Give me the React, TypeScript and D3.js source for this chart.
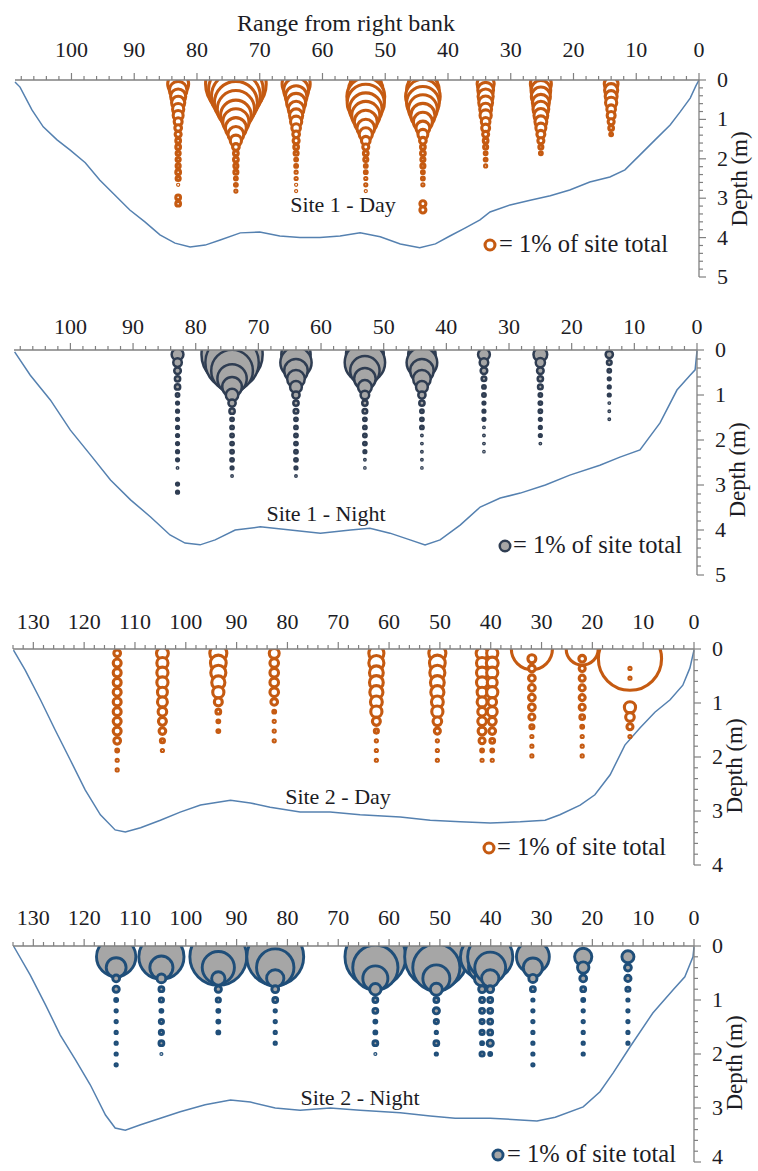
import React from "react";
import * as d3 from "d3";

// ---------------- DATA ----------------
const RANGE_TICKS_SITE1 = [0, 10, 20, 30, 40, 50, 60, 70, 80, 90, 100];
const RANGE_TICKS_SITE2 = [0, 10, 20, 30, 40, 50, 60, 70, 80, 90, 100, 110, 120, 130];
const DEPTH_TICKS_SITE1 = [0, 1, 2, 3, 4, 5];
const DEPTH_TICKS_SITE2 = [0, 1, 2, 3, 4];

// Site 1 - Day : station ranges (m), first bin depth (m), bin step (m), % of site total per bin
const S1D_RANGE = [83.0, 73.8, 64.2, 53.1, 44.0, 34.0, 25.2, 14.0];
const S1D_START = [0.1, 0.1, 0.1, 0.1, 0.1, 0.1, 0.1, 0.1];
const S1D_STEP = 0.16;
const S1D_PCT = [
  [1.85, 1.6, 1.4, 1.25, 1.1, 1.0, 0.85, 0.75, 0.7, 0.6, 0.6, 0.55, 0.55, 0.55, 0.6, 0.55, 0.3, 0, 0.6, 0.6],
  [4.9, 4.45, 4.0, 3.55, 3.1, 2.6, 2.25, 1.85, 1.45, 1.1, 0.75, 0.6, 0.6, 0.55, 0.55, 0.45, 0.45, 0.4],
  [2.4, 2.15, 1.9, 1.7, 1.45, 1.25, 1.1, 0.9, 0.75, 0.7, 0.6, 0.55, 0.45, 0.45, 0.4, 0.4, 0.3, 0.3],
  [2.6, 2.9, 3.15, 3.1, 2.75, 2.4, 2.0, 1.6, 1.25, 0.9, 0.7, 0.6, 0.55, 0.45, 0.45, 0.4, 0.4, 0.3],
  [2.45, 2.75, 2.9, 2.75, 2.45, 2.1, 1.7, 1.3, 1.0, 0.75, 0.6, 0.6, 0.55, 0.55, 0.45, 0.45, 0.4, 0, 0, 0.7, 0.7],
  [1.55, 1.45, 1.4, 1.3, 1.15, 1.1, 0.9, 0.85, 0.7, 0.6, 0.55, 0.45, 0.45, 0.4],
  [1.85, 1.75, 1.7, 1.55, 1.45, 1.3, 1.15, 1.0, 0.85, 0.7, 0.55, 0.45],
  [1.3, 1.25, 1.15, 1.1, 0.9, 0.85, 0.7, 0.6, 0.45],
];

// Site 1 - Night
const S1N_RANGE = [82.9, 74.2, 64.0, 53.0, 43.9, 34.0, 25.0, 14.0];
const S1N_START = [0.1, 0.1, 0.1, 0.1, 0.1, 0.1, 0.1, 0.1];
const S1N_STEP = 0.18;
const S1N_PCT = [
  [1.1, 0.85, 0.7, 0.6, 0.6, 0.45, 0.4, 0.4, 0.4, 0.4, 0.4, 0.4, 0.4, 0.4, 0.3, 0, 0.4, 0.4],
  [4.9, 4.3, 3.4, 2.45, 1.7, 1.15, 0.75, 0.6, 0.45, 0.45, 0.45, 0.45, 0.45, 0.45, 0.4, 0.3],
  [2.45, 2.6, 2.0, 1.55, 1.1, 0.75, 0.6, 0.55, 0.45, 0.45, 0.45, 0.45, 0.45, 0.45, 0.4, 0.3],
  [3.1, 3.3, 2.45, 1.85, 1.25, 0.85, 0.6, 0.55, 0.45, 0.45, 0.45, 0.45, 0.4, 0.3, 0.25],
  [2.3, 2.55, 2.0, 1.55, 1.1, 0.75, 0.6, 0.45, 0.45, 0.45, 0.3, 0.3, 0.3, 0.3, 0.25],
  [1.1, 0.85, 0.7, 0.55, 0.45, 0.45, 0.4, 0.4, 0.4, 0.3, 0.3, 0.3, 0.25],
  [1.25, 0.9, 0.7, 0.6, 0.55, 0.45, 0.45, 0.45, 0.4, 0.4, 0.4, 0.3],
  [0.75, 0.55, 0.45, 0.4, 0.4, 0.4, 0.3, 0.3, 0.3],
];

// Site 2 - Day
const S2D_RANGE = [113.5, 104.6, 93.6, 82.6, 62.5, 50.5, 41.7, 39.7, 31.9, 22.0, 12.6];
const S2D_START = [0.08, 0.08, 0.08, 0.08, 0.08, 0.08, 0.08, 0.08, 0.0, 0.0, 0.18];
const S2D_STEP = 0.18;
const S2D_PCT = [
  [0.75, 0.85, 0.85, 0.85, 0.85, 0.85, 0.85, 0.85, 0.85, 0.75, 0.45, 0.4, 0.4],
  [1.15, 1.1, 1.1, 1.1, 1.0, 1.0, 0.9, 0.85, 0.75, 0.55, 0.4],
  [1.55, 1.45, 1.4, 1.25, 1.1, 0.85, 0.6, 0.45, 0.45],
  [1.0, 0.9, 0.9, 0.9, 0.9, 0.75, 0.45, 0.4, 0.4, 0.4],
  [1.4, 1.4, 1.3, 1.3, 1.25, 1.15, 1.1, 0.85, 0.55, 0.4, 0.4, 0.4],
  [1.55, 1.45, 1.4, 1.3, 1.25, 1.15, 1.1, 0.9, 0.7, 0.4, 0.4, 0.4],
  [1.15, 1.1, 1.1, 1.1, 1.0, 1.0, 0.9, 0.9, 0.85, 0.7, 0.45, 0.4],
  [1.1, 1.15, 1.1, 1.0, 1.1, 0.9, 1.0, 0.85, 0.75, 0.6, 0.45, 0.4],
  [3.4, 0.85, 0.75, 0.75, 0.75, 0.75, 0.75, 0.7, 0.55, 0.4, 0.4, 0.4],
  [2.7, 0.75, 0.7, 0.7, 0.7, 0.7, 0.7, 0.6, 0.45, 0.4, 0.4, 0.4],
  [5.1, 0.4, 0.4, 0, 0, 1.1, 0.9, 0.7, 0.4],
];

// Site 2 - Night
const S2N_RANGE = [113.7, 104.8, 93.6, 82.4, 62.7, 50.7, 41.7, 40.1, 31.7, 21.8, 13.0];
const S2N_START = [0.2, 0.2, 0.2, 0.2, 0.2, 0.2, 0.2, 0.2, 0.2, 0.2, 0.2];
const S2N_STEP = 0.2;
const S2N_PCT = [
  [3.25, 1.75, 0.75, 0.7, 0.45, 0.4, 0.4, 0.4, 0.4, 0.4, 0.4],
  [3.7, 2.0, 0.9, 0.6, 0.55, 0.45, 0.55, 0.55, 0.6, 0.3],
  [4.6, 2.7, 1.25, 0.7, 0.55, 0.45, 0.45, 0.45],
  [4.6, 3.1, 1.55, 0.75, 0.6, 0.4, 0.4, 0.4, 0.4],
  [4.9, 3.7, 2.15, 1.1, 0.6, 0.6, 0.45, 0.45, 0.6, 0.3],
  [5.1, 3.85, 2.3, 1.15, 0.6, 0.7, 0.55, 0.4, 0.6, 0.4],
  [3.55, 2.3, 1.4, 0.75, 0.6, 0.6, 0.55, 0.55, 0.45, 0.55],
  [3.7, 2.6, 1.55, 0.75, 0.6, 0.6, 0.6, 0.6, 0.7, 0.45],
  [2.75, 1.7, 0.85, 0.6, 0.4, 0.4, 0.4, 0.4, 0.4, 0.4, 0.4],
  [1.55, 1.1, 0.75, 0.6, 0.45, 0.4, 0.4, 0.4, 0.4, 0.4],
  [1.15, 0.75, 0.7, 0.55, 0.4, 0.4, 0.4, 0.4, 0.4],
];

// Channel bed profiles: [range from right bank (m), depth (m)]
const S1D_BED: [number, number][] = [
  [109, 0.05], [108.2, 0.18], [106.3, 0.76], [104.5, 1.19], [102.3, 1.52], [100.2, 1.78], [97.8, 2.1],
  [95.5, 2.54], [93.1, 2.92], [90.7, 3.3], [88.3, 3.6], [85.9, 3.93], [83.5, 4.14], [81.1, 4.24],
  [78.7, 4.19], [76.3, 4.06], [73.1, 3.88], [70, 3.86], [66.8, 3.96], [63.6, 4.0], [60.4, 4.0],
  [57.2, 3.96], [54, 3.88], [50.8, 3.98], [47.6, 4.16], [44.5, 4.26], [42, 4.16], [39.7, 3.96],
  [37.3, 3.76], [34.9, 3.55], [33.3, 3.35], [30.1, 3.17], [26.9, 3.05], [23.7, 2.94], [20.6, 2.79],
  [17.4, 2.59], [14.2, 2.46], [11.8, 2.28], [9.4, 1.9], [7, 1.52], [4.6, 1.14], [3, 0.81],
  [1.4, 0.46], [0.5, 0.15], [0, 0],
];
const S1N_BED: [number, number][] = [
  [108.9, 0.04], [106.4, 0.56], [103.2, 1.11], [100, 1.78], [96.8, 2.33], [93.6, 2.89], [90.4, 3.33],
  [87.2, 3.71], [84.1, 4.11], [81.7, 4.29], [79.3, 4.33], [76.9, 4.22], [73.7, 4.0], [69.7, 3.93],
  [64.9, 4.0], [60.1, 4.07], [55.3, 4.0], [52.2, 3.96], [49, 4.07], [45.8, 4.22], [43.4, 4.33],
  [41, 4.22], [37.8, 3.89], [34.6, 3.49], [31.4, 3.29], [28.2, 3.18], [24.2, 3.0], [20.3, 2.78],
  [15.5, 2.56], [12.3, 2.38], [9.1, 2.22], [5.9, 1.62], [3.2, 0.89], [1.1, 0.56], [0.3, 0.44], [0, 0.02],
];
const S2D_BED: [number, number][] = [
  [133.9, 0.02], [131.6, 0.39], [128.6, 0.94], [125.7, 1.5], [122.7, 2.06], [119.8, 2.61], [116.8, 3.07],
  [113.9, 3.35], [111.9, 3.39], [108.9, 3.31], [105, 3.17], [101.1, 3.02], [97.1, 2.89], [91.2, 2.8],
  [87.3, 2.85], [83.4, 2.93], [77.5, 3.02], [71.6, 3.02], [65.7, 3.07], [57.8, 3.11], [51.9, 3.17],
  [46, 3.2], [40.1, 3.22], [34.2, 3.2], [29.3, 3.17], [26.4, 3.07], [22.4, 2.89], [19.5, 2.7],
  [16.5, 2.33], [13.6, 1.78], [10.6, 1.46], [7.7, 1.17], [4.7, 0.94], [2.2, 0.67], [0.8, 0.35], [0, 0.02],
];
const S2N_BED: [number, number][] = [
  [133.9, 0], [130.6, 0.54], [127.6, 1.09], [124.7, 1.65], [121.7, 2.11], [118.8, 2.57], [115.8, 3.13],
  [113.9, 3.37], [111.9, 3.41], [108.9, 3.31], [105, 3.19], [101.1, 3.07], [96.2, 2.94], [91.2, 2.85],
  [87.3, 2.89], [82.4, 3.0], [77.5, 3.04], [71.6, 3.0], [65.7, 3.04], [57.8, 3.09], [51.9, 3.15],
  [47, 3.19], [40.1, 3.19], [34.2, 3.22], [30.9, 3.24], [27.3, 3.17], [21.8, 2.98], [18.5, 2.7],
  [15.9, 2.35], [12.6, 1.87], [8.1, 1.24], [4.1, 0.81], [1.8, 0.57], [0.2, 0.2], [0, 0.02],
];

// ---------------- STYLE / LAYOUT ----------------
const FONT = "'Liberation Serif', 'Times New Roman', Times, serif";
const TEXT = "#1c1c24";
const AXIS = "#808080";
const BED = "#5581b0";
const ORANGE = "#c55a11";
const GRAY = "#a6a6a6";
const NAVY1 = "#2f3d52";
const NAVY2 = "#1f4e79";
const PCT_TO_PX = 6.5; // outer radius of a 1% bubble

type Station = { range: number; start: number; pct: number[] };
function stations(r: number[], s: number[], p: number[][]): Station[] {
  return r.map((range, i) => ({ range, start: s[i], pct: p[i] }));
}

type PanelCfg = {
  xMax: number; xLeft: number; xRight: number; axisY: number; dMax: number; yBottom: number;
  rangeTicks: number[]; depthTicks: number[]; labelBase: number; depthLabelY: number;
  site: string; siteX: number; siteY: number;
  legCx: number; legCy: number; legTx: number; legTy: number;
  step: number; st: Station[]; bed: [number, number][];
  stroke: string; fill: string; sw: number;
};

function Panel({ c, id }: { c: PanelCfg; id: string }) {
  const x = d3.scaleLinear().domain([c.xMax, 0]).range([c.xLeft, c.xRight]);
  const y = d3.scaleLinear().domain([0, c.dMax]).range([c.axisY, c.yBottom]);
  const rs = d3.scaleLinear().domain([0, 1]).range([0, PCT_TO_PX]);
  const minorX = d3.range(0, c.xMax + 0.001, 2);
  const minorY = d3.range(0, c.dMax + 0.001, 0.2);
  const line = d3.line<[number, number]>().x((d) => x(d[0])).y((d) => y(d[1]));
  const bubbles: { cx: number; cy: number; r: number; k: string }[] = [];
  c.st.forEach((s, si) => {
    s.pct.forEach((p, i) => {
      if (p <= 0) return;
      const R = rs(p);
      bubbles.push({
        cx: x(s.range),
        cy: y(s.start + i * c.step),
        r: Math.max(R - c.sw / 2, 0.6),
        k: `${si}-${i}`,
      });
    });
  });
  const legR = rs(1) - c.sw / 2;
  return (
    <g>
      <defs>
        <clipPath id={id}>
          <rect x={0} y={c.axisY} width={c.xRight} height={c.yBottom - c.axisY + 40} />
        </clipPath>
      </defs>
      <path d={line(c.bed) || ""} fill="none" stroke={BED} strokeWidth={1.5} />
      <g clipPath={`url(#${id})`}>
        {bubbles.map((b) => (
          <circle key={b.k} cx={b.cx} cy={b.cy} r={b.r} fill={c.fill} stroke={c.stroke} strokeWidth={c.sw} />
        ))}
      </g>
      <line x1={c.xLeft} x2={c.xRight} y1={c.axisY} y2={c.axisY} stroke={AXIS} strokeWidth={1.3} />
      {minorX.map((v) => (
        <line key={`tx${v}`} x1={x(v)} x2={x(v)} y1={c.axisY} y2={c.axisY - (v % 10 === 0 ? 7 : 4)} stroke={AXIS} strokeWidth={1.2} />
      ))}
      {c.rangeTicks.map((v) => (
        <text key={`lx${v}`} x={x(v)} y={c.labelBase} textAnchor="middle" fontFamily={FONT} fontSize={22} fill={TEXT}>
          {v}
        </text>
      ))}
      <line x1={c.xRight} x2={c.xRight} y1={c.axisY} y2={c.yBottom} stroke={AXIS} strokeWidth={1.3} />
      {minorY.map((v, i) => (
        <line key={`ty${i}`} x1={c.xRight} x2={c.xRight + (i % 5 === 0 ? 7 : 4)} y1={y(v)} y2={y(v)} stroke={AXIS} strokeWidth={1.2} />
      ))}
      {c.depthTicks.map((v) => (
        <text key={`ly${v}`} x={c.xRight + 18} y={Math.min(y(v) + 7, 1164)} fontFamily={FONT} fontSize={22} fill={TEXT}>
          {v}
        </text>
      ))}
      <text
        transform={`translate(${c.xRight + 48},${c.depthLabelY}) rotate(-90)`}
        textAnchor="middle"
        fontFamily={FONT}
        fontSize={23}
        fill={TEXT}
      >
        Depth (m)
      </text>
      <text x={c.siteX} y={c.siteY} textAnchor="middle" fontFamily={FONT} fontSize={22} fill={TEXT}>
        {c.site}
      </text>
      <circle cx={c.legCx} cy={c.legCy} r={legR} fill={c.fill} stroke={c.stroke} strokeWidth={c.sw} />
      <text x={c.legTx} y={c.legTy} fontFamily={FONT} fontSize={24.5} fill={TEXT}>
        = 1% of site total
      </text>
    </g>
  );
}

export default function App() {
  const panels: PanelCfg[] = [
    {
      xMax: 109, xLeft: 15, xRight: 699, axisY: 80, dMax: 5, yBottom: 277,
      rangeTicks: RANGE_TICKS_SITE1, depthTicks: DEPTH_TICKS_SITE1, labelBase: 57, depthLabelY: 179,
      site: "Site 1 - Day", siteX: 343, siteY: 212,
      legCx: 490, legCy: 245, legTx: 499, legTy: 252,
      step: S1D_STEP, st: stations(S1D_RANGE, S1D_START, S1D_PCT), bed: S1D_BED,
      stroke: ORANGE, fill: "#ffffff", sw: 3.1,
    },
    {
      xMax: 109, xLeft: 14, xRight: 697, axisY: 350, dMax: 5, yBottom: 575,
      rangeTicks: RANGE_TICKS_SITE1, depthTicks: DEPTH_TICKS_SITE1, labelBase: 334, depthLabelY: 470,
      site: "Site 1 - Night", siteX: 326, siteY: 521,
      legCx: 505, legCy: 546, legTx: 513, legTy: 553,
      step: S1N_STEP, st: stations(S1N_RANGE, S1N_START, S1N_PCT), bed: S1N_BED,
      stroke: NAVY1, fill: GRAY, sw: 2.5,
    },
    {
      xMax: 134, xLeft: 13, xRight: 694, axisY: 649, dMax: 4, yBottom: 865,
      rangeTicks: RANGE_TICKS_SITE2, depthTicks: DEPTH_TICKS_SITE2, labelBase: 629, depthLabelY: 766,
      site: "Site 2 - Day", siteX: 338, siteY: 804,
      legCx: 489, legCy: 848, legTx: 497, legTy: 855,
      step: S2D_STEP, st: stations(S2D_RANGE, S2D_START, S2D_PCT), bed: S2D_BED,
      stroke: ORANGE, fill: "#ffffff", sw: 3.1,
    },
    {
      xMax: 134, xLeft: 13, xRight: 694, axisY: 946, dMax: 4, yBottom: 1162,
      rangeTicks: RANGE_TICKS_SITE2, depthTicks: DEPTH_TICKS_SITE2, labelBase: 925, depthLabelY: 1063,
      site: "Site 2 - Night", siteX: 360, siteY: 1105,
      legCx: 498, legCy: 1155, legTx: 507, legTy: 1162,
      step: S2N_STEP, st: stations(S2N_RANGE, S2N_START, S2N_PCT), bed: S2N_BED,
      stroke: NAVY2, fill: GRAY, sw: 2.9,
    },
  ];
  return (
    <svg
      width={758}
      height={1171}
      viewBox="0 0 758 1171"
      style={{ position: "absolute", left: 0, top: 0, background: "#ffffff" }}
    >
      <rect x={0} y={0} width={758} height={1171} fill="#ffffff" />
      <text x={346} y={31} textAnchor="middle" fontFamily={FONT} fontSize={24} fill={TEXT}>
        Range from right bank
      </text>
      {panels.map((p, i) => (
        <Panel key={i} c={p} id={`clip${i}`} />
      ))}
    </svg>
  );
}
